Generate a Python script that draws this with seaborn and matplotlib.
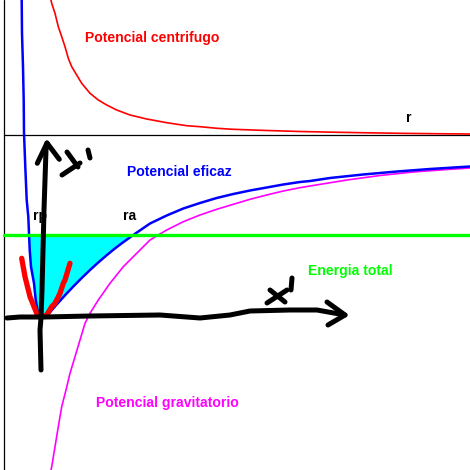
import matplotlib
matplotlib.use("Agg")
import matplotlib.pyplot as plt
import seaborn as sns
import pandas as pd
import numpy as np

# ---- data (r, V) ----
cent_r = [47.0, 47.7, 51.0, 54.3, 57.7, 61.0, 64.3, 67.7, 72.7, 77.7, 86.0, 94.3, 102.7, 112.7, 126.0,
          142.7, 162.7, 182.7, 196.0, 213.0, 229.0, 263.0, 296.0, 329.0, 363.0, 396.0, 430.0, 466.0]
cent_v = [135.0, 131.7, 121.7, 108.3, 98.3, 88.3, 76.7, 68.3, 60.0, 51.7, 41.7, 35.0, 30.0, 25.0, 20.0,
          16.0, 12.3, 9.3, 8.3, 6.7, 5.7, 4.5, 3.5, 2.8, 2.2, 1.7, 1.3, 1.0]

grav_r = [46.8, 47.7, 51.0, 54.3, 57.7, 62.0, 66.0, 71.0, 76.0, 81.0, 86.0, 94.3, 106.0, 119.3, 132.7,
          146.0, 162.7, 179.3, 196.0, 212.7, 229.3, 246.0, 262.7, 279.3, 296.0, 306.0, 343.0, 376.0,
          409.0, 436.0, 466.0]
grav_v = [-336.0, -331.7, -311.7, -291.7, -271.7, -255.0, -238.3, -221.7, -205.0, -188.3, -178.3, -165.0,
          -148.3, -131.7, -118.3, -105.0, -95.0, -86.7, -80.0, -74.3, -69.3, -64.3, -60.0, -56.0, -52.7,
          -51.0, -45.0, -40.5, -37.0, -35.0, -33.0]

eff_r = [17.7, 18.0, 19.0, 19.7, 20.0, 21.3, 22.7, 24.3, 25.0, 25.7, 27.0, 30.0, 31.7, 33.7, 36.0,
         39.0, 42.0, 47.0, 52.0, 57.0, 62.0, 69.0, 77.0, 86.0, 94.0, 102.0, 110.0, 118.0, 129.0,
         146.0, 162.7, 179.3, 196.0, 212.7, 229.3, 246.0, 262.7, 279.3, 296.0, 306.0, 326.0,
         359.0, 393.0, 426.0, 466.0]
eff_v = [135.0, 102.0, 68.0, 35.0, 2.0, -32.0, -65.0, -81.7, -98.3, -115.0, -131.7, -148.3, -165.0,
         -176.0, -181.5, -183.0, -182.0, -176.1, -170.3, -164.7, -159.2, -151.8, -143.7, -135.0,
         -127.7, -120.8, -114.2, -108.1, -100.2, -88.5, -80.5, -73.5, -68.0, -63.0, -59.0, -55.5,
         -52.5, -49.5, -47.0, -46.0, -43.0, -39.5, -36.5, -34.0, -31.5]

energia_total = -100

# hand-drawn annotation strokes
yarrow_r = [37, 36, 37, 38, 39, 40, 41, 42, 43]
yarrow_v = [-235, -195, -183, -155, -115, -75, -45, -15, -8]
yhead_r = [33.3, 43, 55.3]
yhead_v = [-28.3, -8, -24.3]
xarrow_r = [3, 16, 40, 86, 156, 196, 226, 246, 286, 313, 341]
xarrow_v = [-183, -182, -182, -181, -180, -183, -180, -176, -175, -175, -180]
xhead_r = [323, 341, 324]
xhead_v = [-167, -180, -190]
par_r = [17.7, 21.0, 26.0, 32.7, 36.0, 37.7, 42.7, 47.7, 51.0, 56.0, 59.3, 61.0, 66.0]
par_v = [-123.3, -141.7, -161.7, -178.3, -181.7, -181.7, -180.0, -171.7, -168.3, -158.3, -148.3, -145.0, -128.3]

marks_y = [([58, 76], [-40, -28]), ([63, 74], [-17, -32]), ([84, 86], [-15, -23])]
marks_x = [([263, 283], [-168, -155]), ([266, 281], [-155, -167]), ([288, 287], [-143, -155])]

sns.set_style("white")
plt.rcParams["font.family"] = ["Liberation Sans", "DejaVu Sans"]

fig = plt.figure(figsize=(4.7, 4.7), dpi=100)
ax = fig.add_axes([0, 0, 1, 1])
ax.set_xlim(-4, 466)
ax.set_ylim(-335, 135)
ax.axis("off")

# axes lines
ax.axvline(0, color="black", lw=0.9, zorder=1)
ax.plot([0, 466], [0, 0], color="black", lw=0.9, zorder=1)

# fill under energy, above effective potential
er = np.array(eff_r)
ev = np.array(eff_v)
ax.fill_between(er, ev, energia_total, where=ev <= energia_total, interpolate=True,
                color="#00FFFF", lw=0, zorder=2)

df_c = pd.DataFrame({"r": cent_r, "V": cent_v})
df_g = pd.DataFrame({"r": grav_r, "V": grav_v})
df_e = pd.DataFrame({"r": eff_r, "V": eff_v})
sns.lineplot(data=df_c, x="r", y="V", color="#FF0000", lw=1.2, sort=False, estimator=None, ax=ax, zorder=3)
sns.lineplot(data=df_g, x="r", y="V", color="#FF00FF", lw=1.2, sort=False, estimator=None, ax=ax, zorder=3)
sns.lineplot(data=df_e, x="r", y="V", color="#0000FF", lw=1.8, sort=False, estimator=None, ax=ax, zorder=4)
ax.plot([0, 466], [energia_total, energia_total], color="#00FF00", lw=2.4, zorder=4)

fs = 10.08
ax.text(81, 93, "Potencial centrifugo", color="#FF0000", fontsize=fs, fontweight="bold", va="baseline", zorder=6)
ax.text(123, -41, "Potencial eficaz", color="#0000FF", fontsize=fs, fontweight="bold", va="baseline", zorder=6)
ax.text(304, -140, "Energia total", color="#00FF00", fontsize=fs, fontweight="bold", va="baseline", zorder=6)
ax.text(92, -272.5, "Potencial gravitatorio", color="#FF00FF", fontsize=fs, fontweight="bold", va="baseline", zorder=6)
ax.text(402, 13, "r", color="black", fontsize=fs, fontweight="bold", va="baseline", zorder=6)
ax.text(29, -85, "rp", color="black", fontsize=fs, fontweight="bold", va="baseline", zorder=6)
ax.text(119, -85, "ra", color="black", fontsize=fs, fontweight="bold", va="baseline", zorder=6)

# hand strokes
ax.plot(par_r, par_v, color="#FF0000", lw=3.8, solid_capstyle="round", solid_joinstyle="round", zorder=7)
ax.plot(yarrow_r, yarrow_v, color="black", lw=3.6, solid_capstyle="round", solid_joinstyle="round", zorder=8)
ax.plot(yhead_r, yhead_v, color="black", lw=3.6, solid_capstyle="round", solid_joinstyle="round", zorder=8)
ax.plot(xarrow_r, xarrow_v, color="black", lw=3.6, solid_capstyle="round", solid_joinstyle="round", zorder=8)
ax.plot(xhead_r, xhead_v, color="black", lw=3.6, solid_capstyle="round", solid_joinstyle="round", zorder=8)
for xs, ys in marks_y + marks_x:
    ax.plot(xs, ys, color="black", lw=3.6, solid_capstyle="round", zorder=8)

fig.savefig("out.png", dpi=100)
